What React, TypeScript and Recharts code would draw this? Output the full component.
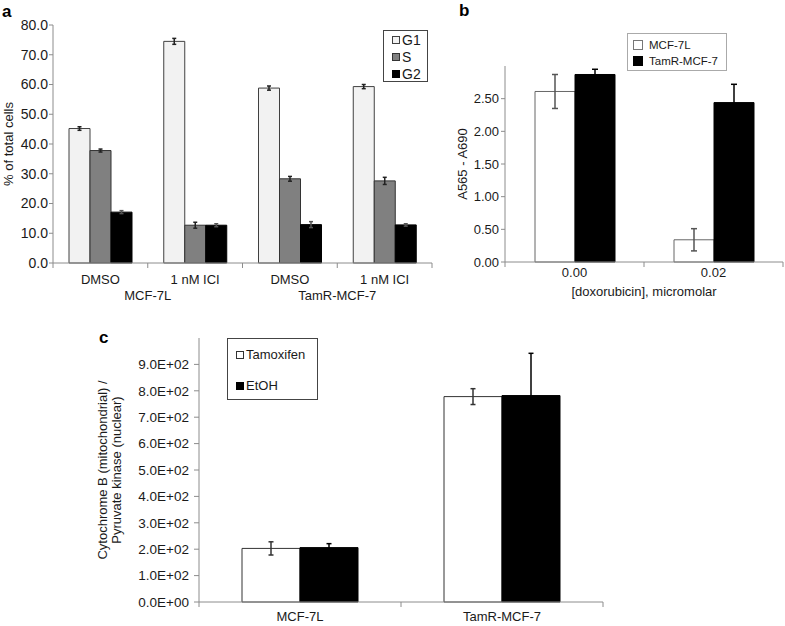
import React from 'react';
import { BarChart, Bar, XAxis, YAxis, ErrorBar, Legend } from 'recharts';

// panel a: cell cycle distribution
const treatments = ['DMSO', '1 nM ICI', 'DMSO', '1 nM ICI'];
const cellLines = ['MCF-7L', 'MCF-7L', 'TamR-MCF-7', 'TamR-MCF-7'];
const g1 = [45.2, 74.5, 58.8, 59.3];
const g1Err = [0.6, 1.0, 0.7, 0.7];
const sPhase = [37.8, 12.7, 28.3, 27.6];
const sErr = [0.5, 1.0, 0.8, 1.2];
const g2 = [17.1, 12.7, 12.9, 12.8];
const g2Err = [0.5, 0.5, 1.0, 0.4];
const ticksA = [0, 10, 20, 30, 40, 50, 60, 70, 80];

// panel b: doxorubicin response
const doses = ['0.00', '0.02'];
const mcf7l = [2.61, 0.34];
const mcf7lErr = [0.26, 0.17];
const tamr = [2.87, 2.44];
const tamrErr = [0.08, 0.28];
const ticksB = [0, 0.5, 1, 1.5, 2, 2.5];

// panel c: mitochondrial / nuclear DNA
const cells = ['MCF-7L', 'TamR-MCF-7'];
const tamoxifen = [203, 778];
const tamoxifenErr = [25, 30];
const etoh = [206, 782];
const etohErr = [15, 160];
const ticksC = [0, 100, 200, 300, 400, 500, 600, 700, 800, 900];

const dataA = treatments.map((t, i) => ({
  name: t, line: cellLines[i],
  G1: g1[i], g1Err: g1Err[i], S: sPhase[i], sErr: sErr[i], G2: g2[i], g2Err: g2Err[i],
}));
const dataB = doses.map((d, i) => ({ name: d, mcf: mcf7l[i], mcfErr: mcf7lErr[i], tamr: tamr[i], tamrErr: tamrErr[i] }));
const dataC = cells.map((c, i) => ({ name: c, tam: tamoxifen[i], tamErr: tamoxifenErr[i], etoh: etoh[i], etohErr: etohErr[i] }));

const FONT = '"Liberation Sans", Arial, sans-serif';
const TEXT = '#1a1a1a';
const AXIS = '#8c8c8c';

const sci = (v: number) => {
  if (v === 0) return '0.0E+00';
  const e = Math.floor(Math.log10(v));
  return (v / Math.pow(10, e)).toFixed(1) + 'E+' + String(e).padStart(2, '0');
};

// category tick with Excel-style boundary marks and optional group row
const CategoryTick = (props: any) => {
  const { x, y, payload, index, half, count, groups, dy, groupDy, fontSize } = props;
  let group = null;
  if (groups && (index === 0 || groups[index] !== groups[index - 1])) {
    let n = 1;
    while (index + n < groups.length && groups[index + n] === groups[index]) n++;
    group = (
      <text x={x + (n - 1) * half} y={y + groupDy} textAnchor="middle" fontSize={fontSize} fill={TEXT} fontFamily={FONT}>
        {groups[index]}
      </text>
    );
  }
  return (
    <g>
      <line x1={x - half} y1={y} x2={x - half} y2={y + 5} stroke={AXIS} />
      {index === count - 1 && <line x1={x + half} y1={y} x2={x + half} y2={y + 5} stroke={AXIS} />}
      <text x={x} y={y + dy} textAnchor="middle" fontSize={fontSize} fill={TEXT} fontFamily={FONT}>
        {payload.value}
      </text>
      {group}
    </g>
  );
};

const AxisTitle = (props: any) => {
  const { viewBox, cx, lines, fontSize, lineGap } = props;
  const cy = viewBox.y + viewBox.height / 2;
  return (
    <text transform={`translate(${cx},${cy}) rotate(-90)`} textAnchor="middle" fontSize={fontSize} fill={TEXT} fontFamily={FONT}>
      {lines.map((l: string, i: number) => (
        <tspan key={i} x={0} y={i * lineGap}>{l}</tspan>
      ))}
    </text>
  );
};

const BoxLegend = (props: any) => {
  const { payload, swatches, order, fontSize, rowHeight, padding, box, border, gap } = props;
  const items = order.map((k: string) => (payload || []).find((p: any) => p.dataKey === k)).filter(Boolean);
  return (
    <div style={{ border: `1px solid ${border}`, background: '#fff', padding, fontFamily: FONT, fontSize, color: TEXT, boxSizing: 'border-box', ...box }}>
      {items.map((p: any) => {
        const sw = swatches[p.dataKey];
        return (
          <div key={p.dataKey} style={{ display: 'flex', alignItems: 'center', height: rowHeight, whiteSpace: 'nowrap' }}>
            <span style={{ display: 'inline-block', width: sw.size, height: sw.size, background: sw.fill, border: `1px solid ${sw.stroke}`, boxSizing: 'border-box', marginRight: gap }} />
            <span>{p.value}</span>
          </div>
        );
      })}
    </div>
  );
};

const Letter = ({ x, y, children }: { x: number; y: number; children: string }) => (
  <div style={{ position: 'absolute', left: x, top: y, fontFamily: FONT, fontWeight: 'bold', fontSize: 17, color: '#000', lineHeight: 1 }}>{children}</div>
);

const WA = 440, WB = 365, WC = 540;

export default function App() {
  return (
    <div style={{ position: 'absolute', left: 0, top: 0, width: 785, height: 626, background: '#fff', overflow: 'hidden' }}>
      <Letter x={2} y={3}>a</Letter>
      <Letter x={459} y={2}>b</Letter>
      <Letter x={99} y={329}>c</Letter>

      <div style={{ position: 'absolute', left: 0, top: 0 }}>
        <BarChart width={WA} height={310} data={dataA} margin={{ top: 25, right: 8, bottom: 0, left: 8 }} barCategoryGap={16} barGap={0}>
          <XAxis dataKey="name" height={47} axisLine={{ stroke: AXIS }} tickLine={false} tickSize={0} tickMargin={0} interval={0}
            tick={<CategoryTick half={379 / 4 / 2} count={4} groups={cellLines} dy={21} groupDy={37} fontSize={13} />} />
          <YAxis width={45} domain={[0, 80]} ticks={ticksA} tickFormatter={(v: number) => v.toFixed(1)} axisLine={{ stroke: AXIS }}
            tickLine={{ stroke: AXIS }} tickSize={4} tickMargin={1} tick={{ fill: TEXT, fontSize: 14, fontFamily: FONT }}
            label={<AxisTitle cx={13} lines={['% of total cells']} fontSize={13} lineGap={14} />} />
          <Legend layout="vertical" align="center" verticalAlign="middle" wrapperStyle={{ left: 383, top: 30, width: 45 }}
            content={<BoxLegend order={['G1', 'S', 'G2']} border="#444" gap={2} fontSize={14} rowHeight={17} padding="0 0 0 8px" box={{ width: 45, height: 52 }}
              swatches={{ G1: { fill: '#f2f2f2', stroke: '#404040', size: 8 }, S: { fill: '#808080', stroke: '#333', size: 8 }, G2: { fill: '#000', stroke: '#000', size: 8 } }} />} />
          <Bar dataKey="G1" name="G1" fill="#f2f2f2" stroke="#404040" isAnimationActive={false}>
            <ErrorBar dataKey="g1Err" width={2} stroke="#222" />
          </Bar>
          <Bar dataKey="S" name="S" fill="#808080" stroke="#333" isAnimationActive={false}>
            <ErrorBar dataKey="sErr" width={2} stroke="#222" />
          </Bar>
          <Bar dataKey="G2" name="G2" fill="#000" stroke="#000" isAnimationActive={false}>
            <ErrorBar dataKey="g2Err" width={2} stroke="#555" />
          </Bar>
        </BarChart>
      </div>

      <div style={{ position: 'absolute', left: 420, top: 0 }}>
        <BarChart width={WB} height={310} data={dataB} margin={{ top: 66, right: 2, bottom: 0, left: 35 }} barCategoryGap={30} barGap={0}>
          <XAxis dataKey="name" height={48} axisLine={{ stroke: AXIS }} tickLine={false} tickSize={0} tickMargin={0} interval={0}
            tick={<CategoryTick half={278 / 2 / 2} count={2} dy={15} fontSize={13} />}
            label={{ value: '[doxorubicin], micromolar', position: 'insideBottom', offset: 14, fill: TEXT, fontSize: 13, fontFamily: FONT }} />
          <YAxis width={50} domain={[0, 3]} ticks={ticksB} tickFormatter={(v: number) => v.toFixed(2)} axisLine={{ stroke: AXIS }}
            tickLine={{ stroke: AXIS }} tickSize={4} tickMargin={2} tick={{ fill: TEXT, fontSize: 13, fontFamily: FONT }}
            label={<AxisTitle cx={47} lines={['A565 - A690']} fontSize={13} lineGap={14} />} />
          <Legend layout="vertical" align="center" verticalAlign="middle" wrapperStyle={{ left: 207, top: 33, width: 100 }}
            content={<BoxLegend order={['mcf', 'tamr']} border="#aaa" gap={6} fontSize={11.5} rowHeight={16} padding="3px 0 0 5px" box={{ width: 100, height: 38 }}
              swatches={{ mcf: { fill: '#fff', stroke: '#777', size: 10 }, tamr: { fill: '#000', stroke: '#000', size: 10 } }} />} />
          <Bar dataKey="mcf" name="MCF-7L" fill="#fff" stroke="#666" isAnimationActive={false}>
            <ErrorBar dataKey="mcfErr" width={3} stroke="#555" />
          </Bar>
          <Bar dataKey="tamr" name="TamR-MCF-7" fill="#000" stroke="#000" isAnimationActive={false}>
            <ErrorBar dataKey="tamrErr" width={3} stroke="#000" />
          </Bar>
        </BarChart>
      </div>

      <div style={{ position: 'absolute', left: 80, top: 320 }}>
        <BarChart width={WC} height={306} data={dataC} margin={{ top: 18, right: 17, bottom: 0, left: 19 }} barCategoryGap={43} barGap={0}>
          <XAxis dataKey="name" height={24} axisLine={{ stroke: AXIS }} tickLine={false} tickSize={0} tickMargin={0} interval={0}
            tick={<CategoryTick half={404 / 2 / 2} count={2} dy={19} fontSize={13} />} />
          <YAxis width={100} domain={[0, 1000]} ticks={ticksC} tickFormatter={sci} axisLine={{ stroke: AXIS }}
            tickLine={{ stroke: AXIS }} tickSize={5} tickMargin={5} tick={{ fill: TEXT, fontSize: 13.5, fontFamily: FONT }}
            label={<AxisTitle cx={27} lines={['Cytochrome B (mitochondrial) /', 'Pyruvate kinase (nuclear)']} fontSize={13} lineGap={14} />} />
          <Legend layout="vertical" align="center" verticalAlign="middle" wrapperStyle={{ left: 147, top: 18, width: 91 }}
            content={<BoxLegend order={['tam', 'etoh']} border="#444" gap={2} fontSize={13} rowHeight={31} padding="0 0 0 8px" box={{ width: 91, height: 62 }}
              swatches={{ tam: { fill: '#fff', stroke: '#333', size: 8 }, etoh: { fill: '#000', stroke: '#000', size: 8 } }} />} />
          <Bar dataKey="tam" name="Tamoxifen" fill="#fff" stroke="#333" isAnimationActive={false}>
            <ErrorBar dataKey="tamErr" width={2.5} stroke="#333" />
          </Bar>
          <Bar dataKey="etoh" name="EtOH" fill="#000" stroke="#000" isAnimationActive={false}>
            <ErrorBar dataKey="etohErr" width={2.5} stroke="#000" />
          </Bar>
        </BarChart>
      </div>
    </div>
  );
}
